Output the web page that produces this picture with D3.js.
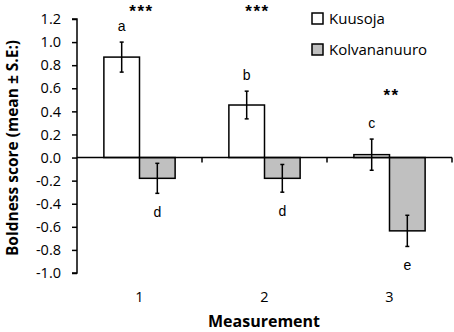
<!DOCTYPE html>
<html>
<head>
<meta charset="utf-8">
<script src="https://cdn.jsdelivr.net/npm/d3@7"></script>
<style>
  body { margin: 0; background: #fff; }
  svg text { fill: #000; }
</style>
</head>
<body>
<div id="chart"></div>
<script>
var measurements = ["1", "2", "3"];
var seriesNames = ["Kuusoja", "Kolvananuuro"];
var kuusojaMean = [0.87, 0.455, 0.025];
var kuusojaSE = [0.13, 0.12, 0.135];
var kolvMean = [-0.18, -0.18, -0.635];
var kolvSE = [0.13, 0.12, 0.135];
var kuusojaLetters = ["a", "b", "c"];
var kolvLetters = ["d", "d", "e"];
var stars = ["***", "***", "**"];
var yTicks = [-1.0, -0.8, -0.6, -0.4, -0.2, 0.0, 0.2, 0.4, 0.6, 0.8, 1.0, 1.2];

var width = 454, height = 332;
var colors = { "Kuusoja": "#ffffff", "Kolvananuuro": "#c0c0c0" };

var svg = d3.select("#chart").append("svg")
  .attr("width", width)
  .attr("height", height);

var x = d3.scaleBand().domain(measurements).range([77, 452]).padding(0);
var y = d3.scaleLinear().domain([-1.0, 1.2]).range([273, 19]);
var barW = x.bandwidth() * 0.285;

// y axis
var yAxis = d3.axisLeft(y)
  .tickValues(yTicks)
  .tickSize(5)
  .tickPadding(11)
  .tickFormat(d => d3.format(".1f")(d).replace("−", "-"));

svg.append("g")
  .attr("transform", "translate(77,0)")
  .call(yAxis)
  .call(g => g.select(".domain").attr("stroke", "#000").attr("stroke-width", 1.5).attr("d", "M-5," + y(1.2) + "H0V" + y(-1.0) + "H-5"))
  .call(g => g.selectAll(".tick line").attr("stroke", "#000").attr("stroke-width", 1.5))
  .call(g => g.selectAll(".tick text")
    .attr("font-family", "'Open Sans', sans-serif")
    .attr("font-size", 14.5)
    .attr("fill", "#000"));

// bars
var data = measurements.map((m, i) => ({
  m: m,
  vals: [
    { s: "Kuusoja", v: kuusojaMean[i], se: kuusojaSE[i], letter: kuusojaLetters[i], off: -1 },
    { s: "Kolvananuuro", v: kolvMean[i], se: kolvSE[i], letter: kolvLetters[i], off: 0 }
  ],
  star: stars[i]
}));

var groups = svg.append("g").selectAll("g")
  .data(data)
  .join("g")
  .attr("transform", d => `translate(${x(d.m) + x.bandwidth() / 2},0)`);

groups.selectAll("rect")
  .data(d => d.vals)
  .join("rect")
  .attr("x", d => d.off * barW)
  .attr("width", barW)
  .attr("y", d => y(Math.max(0, d.v)))
  .attr("height", d => Math.abs(y(d.v) - y(0)))
  .attr("fill", d => colors[d.s])
  .attr("stroke", "#000")
  .attr("stroke-width", 1.5);

// error bars
var eb = groups.selectAll("g.err")
  .data(d => d.vals)
  .join("g")
  .attr("class", "err")
  .attr("transform", d => `translate(${d.off * barW + barW / 2},0)`)
  .attr("stroke", "#000")
  .attr("stroke-width", 1.5);

eb.append("line")
  .attr("y1", d => y(d.v + d.se)).attr("y2", d => y(d.v - d.se));
eb.append("line")
  .attr("x1", -2).attr("x2", 2)
  .attr("y1", d => y(d.v + d.se)).attr("y2", d => y(d.v + d.se));
eb.append("line")
  .attr("x1", -2).attr("x2", 2)
  .attr("y1", d => y(d.v - d.se)).attr("y2", d => y(d.v - d.se));

// letters
groups.selectAll("text.letter")
  .data(d => d.vals)
  .join("text")
  .attr("class", "letter")
  .attr("x", d => d.off * barW + barW / 2)
  .attr("y", d => d.s === "Kuusoja" ? y(Math.max(d.v, 0) + d.se) - 11 : y(d.v - d.se) + 24)
  .attr("text-anchor", "middle")
  .attr("font-family", "'Liberation Sans', Arial, sans-serif")
  .attr("font-size", 14)
  .text(d => d.letter);

// significance stars
svg.append("g").selectAll("text")
  .data(data)
  .join("text")
  .attr("x", (d, i) => x(d.m) + x.bandwidth() / 2 + (i === 1 ? -7 : 2))
  .attr("y", (d, i) => i < 2 ? 17 : 101)
  .attr("text-anchor", "middle")
  .attr("font-family", "'Liberation Sans', Arial, sans-serif")
  .attr("font-size", 17)
  .attr("font-weight", "bold")
  .attr("letter-spacing", 1.5)
  .text(d => d.star);

// x axis at zero
svg.append("line")
  .attr("x1", 77).attr("x2", 452)
  .attr("y1", y(0)).attr("y2", y(0))
  .attr("stroke", "#000").attr("stroke-width", 1.5);

svg.append("g").selectAll("line")
  .data(measurements)
  .join("line")
  .attr("x1", d => x(d) + x.bandwidth()).attr("x2", d => x(d) + x.bandwidth())
  .attr("y1", y(0)).attr("y2", y(0) + 5)
  .attr("stroke", "#000").attr("stroke-width", 1.5);

// x tick labels
svg.append("g").selectAll("text")
  .data(measurements)
  .join("text")
  .attr("x", d => x(d) + x.bandwidth() / 2)
  .attr("y", 302)
  .attr("text-anchor", "middle")
  .attr("font-family", "'Open Sans', sans-serif")
  .attr("font-size", 14.5)
  .text(d => d);

// axis titles
svg.append("text")
  .attr("x", 264).attr("y", 327)
  .attr("text-anchor", "middle")
  .attr("font-family", "'Open Sans', sans-serif")
  .attr("font-size", 16)
  .attr("font-weight", "bold")
  .text("Measurement");

svg.append("text")
  .attr("transform", "translate(18,148) rotate(-90)")
  .attr("text-anchor", "middle")
  .attr("font-family", "'Open Sans', sans-serif")
  .attr("font-size", 15.5)
  .attr("font-weight", "bold")
  .text("Boldness score (mean ± S.E:)");

// legend
var legend = svg.append("g").selectAll("g")
  .data(seriesNames)
  .join("g")
  .attr("transform", (d, i) => `translate(312,${13 + i * 31})`);

legend.append("rect")
  .attr("width", 11).attr("height", 11)
  .attr("fill", d => colors[d])
  .attr("stroke", "#000")
  .attr("stroke-width", 1.5);

legend.append("text")
  .attr("x", 17).attr("y", 11)
  .attr("font-family", "'Open Sans', sans-serif")
  .attr("font-size", 15)
  .text(d => d);
</script>
</body>
</html>
